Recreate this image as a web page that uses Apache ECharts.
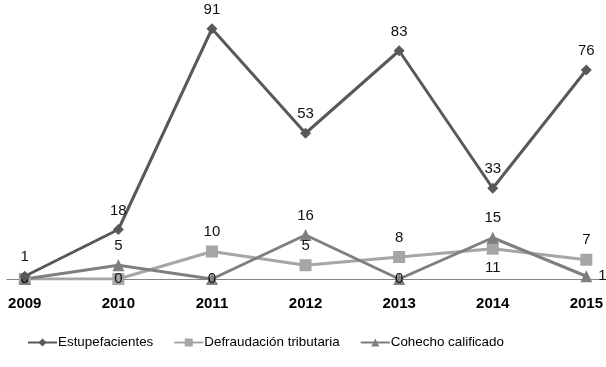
<!DOCTYPE html>
<html>
<head>
<meta charset="utf-8">
<script src="https://cdn.jsdelivr.net/npm/echarts@6/dist/echarts.min.js"></script>
<style>html,body{margin:0;padding:0;background:#fff;}#c{width:606px;height:367px;}</style>
</head>
<body>
<div id="c"></div>
<script>
const years = [2009, 2010, 2011, 2012, 2013, 2014, 2015];
const seriesNames = ['Estupefacientes', 'Defraudación tributaria', 'Cohecho calificado'];
const estupefacientes = [1, 18, 91, 53, 83, 33, 76];
const defraudacion = [0, 0, 10, 5, 8, 11, 7];
const cohecho = [0, 5, 0, 16, 0, 15, 1];

const chart = echarts.init(document.getElementById('c'));
const font = 'Liberation Sans, Arial, sans-serif';

function build(name, vals, color, symbol, size, positions) {
  return {
    name: name,
    type: 'line',
    symbol: symbol,
    symbolSize: size,
    lineStyle: { color: color, width: 3 },
    itemStyle: { color: color },
    z: name === 'Estupefacientes' ? 3 : 2,
    label: { show: true, color: '#111', fontSize: 15, fontFamily: font, distance: 6 },
    data: vals.map((v, i) => ({
      value: [years[i], v],
      label: { position: positions[i] }
    }))
  };
}

chart.setOption({
  backgroundColor: '#fff',
  animation: false,
  textStyle: { fontFamily: font },
  grid: { left: 7, right: 0, top: 4, bottom: 88 },
  xAxis: {
    type: 'value',
    min: 2008.81,
    max: 2015.19,
    axisLine: { show: true, onZero: false, lineStyle: { color: '#868686', width: 1 } },
    axisTick: { show: false },
    splitLine: { show: false },
    axisLabel: {
      customValues: years,
      formatter: v => String(v),
      fontWeight: 'bold',
      fontSize: 15,
      color: '#000',
      fontFamily: font,
      margin: 17
    }
  },
  yAxis: { type: 'value', min: 0, max: 100, show: false },
  legend: {
    bottom: 13,
    left: 22,
    itemGap: 20,
    itemWidth: 29,
    itemHeight: 10,
    textStyle: { fontSize: 13.4, color: '#000', fontFamily: font, padding: [0, 0, 0, -4] },
    data: seriesNames
  },
  series: [
    build(seriesNames[0], estupefacientes, '#595959', 'diamond', 11,
      ['top', 'top', 'top', 'top', 'top', 'top', 'top']),
    build(seriesNames[1], defraudacion, '#a6a6a6', 'rect', 12,
      ['inside', 'inside', 'top', 'top', 'top', 'bottom', 'top']),
    build(seriesNames[2], cohecho, '#7f7f7f', 'triangle', 12,
      ['inside', 'top', 'inside', 'top', 'inside', 'top', 'right'])
  ]
});
</script>
</body>
</html>
